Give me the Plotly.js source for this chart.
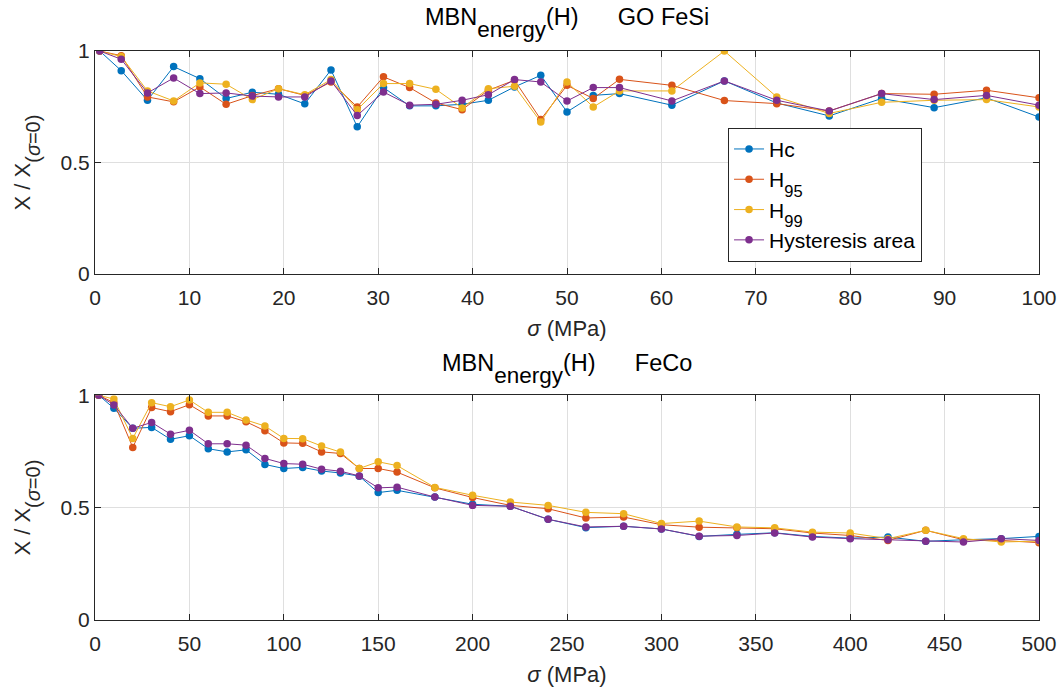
<!DOCTYPE html>
<html><head><meta charset="utf-8">
<script src="https://cdn.plot.ly/plotly-3.0.1.min.js"></script>
<style>body{margin:0;background:#fff}#c{width:1062px;height:693px}</style>
</head><body><div id="c"></div>
<script>
// subscript helper: glyph size and downward shift (px)
function sub(t, size, shift) {
  return '<span style="font-size:' + (shift / 0.21).toFixed(1) + 'px"><sub><span style="font-size:' + size + 'px">' + t + '</span></sub></span>';
}
const seriesNames = ["Hc", "H" + sub("95", 16.5, 9.5), "H" + sub("99", 16.5, 9.5), "Hysteresis area"];
const colors = ["#0072BD", "#D95319", "#EDB120", "#7E2F8E"];
const subplotTitles = ["GO FeSi", "FeCo"];

// GO FeSi (top)
const xFeSi = [0.5, 2.78, 5.56, 8.33, 11.11, 13.89, 16.67, 19.44, 22.22, 25, 27.78, 30.56, 33.33, 36.11, 38.89, 41.67, 44.44, 47.22, 50, 52.78, 55.56, 61.11, 66.67, 72.22, 77.78, 83.33, 88.89, 94.44, 100];
const hcFeSi  = [1, 0.912, 0.779, 0.930, 0.876, 0.787, 0.815, 0.806, 0.763, 0.915, 0.660, 0.836, 0.754, 0.754, 0.761, 0.779, 0.839, 0.891, 0.727, 0.801, 0.809, 0.757, 0.866, 0.767, 0.709, 0.787, 0.746, 0.790, 0.704];
const h95FeSi = [1, 0.979, 0.794, 0.772, 0.839, 0.761, 0.800, 0.831, 0.801, 0.861, 0.749, 0.884, 0.836, 0.767, 0.737, 0.824, 0.869, 0.693, 0.846, 0.787, 0.873, 0.846, 0.778, 0.764, 0.731, 0.809, 0.806, 0.824, 0.790];
const h99FeSi = [1, 0.975, 0.821, 0.776, 0.857, 0.851, 0.782, 0.831, 0.804, 0.872, 0.737, 0.854, 0.854, 0.828, 0.745, 0.831, 0.842, 0.682, 0.861, 0.749, 0.821, 0.821, 1.0, 0.794, 0.720, 0.770, 0.779, 0.782, 0.749];
const haFeSi  = [1, 0.963, 0.812, 0.879, 0.809, 0.812, 0.798, 0.794, 0.794, 0.866, 0.711, 0.816, 0.757, 0.761, 0.779, 0.804, 0.872, 0.861, 0.776, 0.836, 0.836, 0.776, 0.866, 0.779, 0.731, 0.809, 0.782, 0.801, 0.757];

// FeCo (bottom)
const xFeCo = [2, 10, 20, 30, 40, 50, 60, 70, 80, 90, 100, 110, 120, 130, 140, 150, 160, 180, 200, 220, 240, 260, 280, 300, 320, 340, 360, 380, 400, 420, 440, 460, 480, 500];
const hcFeCo  = [1, 0.942, 0.853, 0.857, 0.804, 0.820, 0.762, 0.748, 0.757, 0.692, 0.674, 0.679, 0.663, 0.654, 0.640, 0.567, 0.577, 0.547, 0.515, 0.506, 0.448, 0.411, 0.417, 0.405, 0.372, 0.381, 0.388, 0.372, 0.364, 0.369, 0.350, 0.357, 0.362, 0.372];
const h95FeCo = [1, 0.967, 0.768, 0.945, 0.927, 0.958, 0.908, 0.908, 0.882, 0.842, 0.788, 0.786, 0.748, 0.741, 0.674, 0.674, 0.658, 0.588, 0.545, 0.510, 0.495, 0.454, 0.458, 0.424, 0.413, 0.411, 0.406, 0.387, 0.376, 0.354, 0.399, 0.357, 0.354, 0.344];
const h99FeCo = [1, 0.983, 0.808, 0.967, 0.949, 0.979, 0.924, 0.924, 0.890, 0.863, 0.808, 0.807, 0.774, 0.747, 0.674, 0.704, 0.687, 0.590, 0.555, 0.525, 0.510, 0.479, 0.473, 0.429, 0.440, 0.414, 0.410, 0.391, 0.387, 0.362, 0.399, 0.362, 0.347, 0.351];
const haFeCo  = [1, 0.957, 0.853, 0.879, 0.827, 0.844, 0.784, 0.784, 0.778, 0.719, 0.696, 0.693, 0.671, 0.662, 0.641, 0.588, 0.591, 0.547, 0.510, 0.506, 0.448, 0.414, 0.417, 0.405, 0.373, 0.376, 0.387, 0.369, 0.362, 0.357, 0.350, 0.347, 0.362, 0.354];

const topSeries = [hcFeSi, h95FeSi, h99FeSi, haFeSi];
const botSeries = [hcFeCo, h95FeCo, h99FeCo, haFeCo];

const traces = [];
topSeries.forEach((ys, i) => traces.push({
  x: xFeSi, y: ys, name: seriesNames[i], type: 'scatter', mode: 'lines+markers',
  line: {color: colors[i], width: 1}, marker: {color: colors[i], size: 7.5},
  xaxis: 'x', yaxis: 'y', showlegend: true
}));
botSeries.forEach((ys, i) => traces.push({
  x: xFeCo, y: ys, name: seriesNames[i], type: 'scatter', mode: 'lines+markers',
  line: {color: colors[i], width: 1}, marker: {color: colors[i], size: 7.5},
  xaxis: 'x2', yaxis: 'y2', showlegend: false
}));

const TICK = 21, LAB = 22;
const font = {family: 'Arial, "Liberation Sans", sans-serif', color: '#262626', size: TICK};
function xax(range, dtick, anchor) {
  return {range: range, dtick: dtick, anchor: anchor, ticks: 'inside', ticklen: 6, tickcolor: '#262626',
    showline: true, linecolor: '#262626', linewidth: 1, mirror: 'ticks', showgrid: true, gridcolor: '#DFDFDF',
    zeroline: false, tickfont: {size: TICK, color: '#262626'}, ticklabelstandoff: 5,
    title: {text: '<i>σ</i> (MPa)', font: {size: LAB, color: '#262626'}, standoff: 12}};
}
function yax(domain, anchor) {
  return {range: [0, 1.0], domain: domain, anchor: anchor, tickvals: [0, 0.5, 1], ticktext: ['0', '0.5', '1'],
    ticks: 'inside', ticklen: 6, tickcolor: '#262626', showline: true, linecolor: '#262626', linewidth: 1, mirror: 'ticks',
    showgrid: true, gridcolor: '#DFDFDF', zeroline: false, tickfont: {size: TICK, color: '#262626'},
    title: {text: 'X / X' + sub('(<i>σ</i>=0)', 20, 10), font: {size: LAB, color: '#262626'}, standoff: 23}};
}

const titleText = t => 'MBN' + sub('energy', 22.5, 12.5) + '(H)\u00a0\u00a0\u00a0\u00a0\u00a0\u00a0' + t;

const layout = {
  width: 1062, height: 693, paper_bgcolor: '#fff', plot_bgcolor: '#fff', font: font,
  margin: {l: 95, r: 23, t: 51, b: 73},
  xaxis: Object.assign(xax([0, 100], 10, 'y'), {domain: [0, 1]}),
  yaxis: yax([0.608, 1], 'x'),
  xaxis2: Object.assign(xax([0, 500], 50, 'y2'), {domain: [0, 1]}),
  yaxis2: yax([0, 0.395], 'x2'),
  legend: {x: 0.6706, y: 0.865, xanchor: 'left', yanchor: 'top', bgcolor: '#fff', bordercolor: '#262626', borderwidth: 1,
    font: {size: 21, color: '#000'}, tracegroupgap: 0, itemwidth: 30},
  annotations: [
    {text: titleText(subplotTitles[0]), xref: 'paper', yref: 'paper', x: 0.5, y: 1.0, yshift: 7,
      xanchor: 'center', yanchor: 'bottom', showarrow: false, font: {size: 23.5, color: '#000'}},
    {text: titleText(subplotTitles[1]), xref: 'paper', yref: 'paper', x: 0.5, y: 0.395, yshift: 5,
      xanchor: 'center', yanchor: 'bottom', showarrow: false, font: {size: 23.5, color: '#000'}}
  ]
};
Plotly.newPlot('c', traces, layout, {displayModeBar: false, staticPlot: true});
</script></body></html>
